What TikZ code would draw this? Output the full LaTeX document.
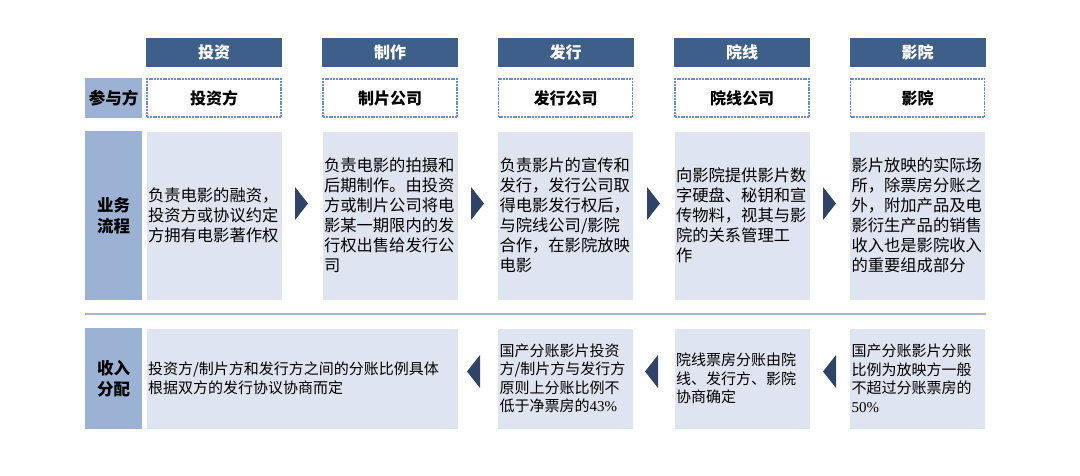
\documentclass[tikz,border=0pt]{standalone}
\usepackage{fontspec}
\newfontfamily\cjk{Noto Sans CJK SC}
\newfontfamily\lat{Liberation Serif}
\definecolor{hdr}{HTML}{3F5F8B}
\definecolor{lbl}{HTML}{9CB2D5}
\definecolor{cnt}{HTML}{DFE5F0}
\definecolor{dsh}{HTML}{6A8FD0}
\definecolor{tri}{HTML}{2E4466}
\definecolor{sep}{HTML}{A7B6CF}
\tikzset{
  head/.style={fill=hdr, text=white, font=\cjk\bfseries\fontsize{16}{19}\selectfont, minimum width=136, minimum height=29, inner sep=0},
  party/.style={draw=dsh, line width=1.8pt, dash pattern=on 2pt off 0.8pt, fill=white, font=\cjk\bfseries\fontsize{16}{19}\selectfont, minimum width=134, minimum height=38, inner sep=0},
  lab/.style={fill=lbl, text=black, font=\cjk\bfseries\fontsize{16.5}{21}\selectfont, minimum width=57, align=center, inner sep=0},
  flow/.style={fill=cnt, draw=white, line width=0.5pt, text width=132, inner xsep=2, inner ysep=0, minimum height=169, align=left, font=\cjk\fontsize{16.3}{20}\selectfont},
  inc/.style={fill=cnt, draw=white, line width=0.5pt, inner xsep=2, inner ysep=0, minimum height=101, align=left, font=\cjk\fontsize{15}{18.5}\selectfont},
  arr/.style={fill=tri, draw=none}
}
\begin{document}
\begin{tikzpicture}[x=1pt,y=-1pt]
\useasboundingbox (0,0) rectangle (1080,475);
% headers
\node[head] (h1) at (214,52.5) {投资};
\node[head] (h2) at (390,52.5) {制作};
\node[head] (h3) at (565.5,52.5) {发行};
\node[head] (h4) at (742,52.5) {院线};
\node[head] (h5) at (917.5,52.5) {影院};
% participants
\node[lab, minimum height=40] (l1) at (113.5,98) {参与方};
\node[party] (p1) at (214,98) {投资方};
\node[party] (p2) at (390,98) {制片公司};
\node[party] (p3) at (565.5,98) {发行公司};
\node[party] (p4) at (742,98) {院线公司};
\node[party] (p5) at (917.5,98) {影院};
% flow
\node[lab, minimum height=169] (l2) at (113.5,215.5) {业务\\流程};
\node[flow] (f1) at (214,215.5) {负责电影的融资，\\投资方或协议约定\\方拥有电影著作权};
\node[flow] (f2) at (390,215.5) {负责电影的拍摄和\\后期制作。由投资\\方或制片公司将电\\影某一期限内的发\\行权出售给发行公\\司};
\node[flow] (f3) at (565.5,215.5) {负责影片的宣传和\\发行，发行公司取\\得电影发行权后，\\与院线公司/影院\\合作，在影院放映\\电影};
\node[flow] (f4) at (742,215.5) {向影院提供影片数\\字硬盘、秘钥和宣\\传物料，视其与影\\院的关系管理工\\作};
\node[flow] (f5) at (917.5,215.5) {影片放映的实际场\\所，除票房分账之\\外，附加产品及电\\影衍生产品的销售\\收入也是影院收入\\的重要组成部分};
\fill[arr] (295,187) -- (308,203.5) -- (295,220) -- cycle;
\fill[arr] (471,187) -- (484,203.5) -- (471,220) -- cycle;
\fill[arr] (647,187) -- (660,203.5) -- (647,220) -- cycle;
\fill[arr] (823,187) -- (836,203.5) -- (823,220) -- cycle;
% separator
\coordinate (s1) at (85,314);
\coordinate (s2) at (986,314);
\draw[sep, line width=1.5pt] (s1) -- (s2);
% income
\node[lab, minimum height=101] (l3) at (113.5,378.5) {收入\\分配};
\node[inc, text width=308] (i1) at (302,378.5) {投资方/制片方和发行方之间的分账比例具体\\根据双方的发行协议协商而定};
\node[inc, text width=132] (i2) at (565.5,378.5) {国产分账影片投资\\方/制片方与发行方\\原则上分账比例不\\低于净票房的{\lat 43\%}};
\node[inc, text width=132] (i3) at (742,378.5) {院线票房分账由院\\线、发行方、影院\\协商确定};
\node[inc, text width=132] (i4) at (917.5,378.5) {国产分账影片分账\\比例为放映方一般\\不超过分账票房的\\{\lat 50\%}};
\fill[arr] (480,355) -- (467,371.5) -- (480,388) -- cycle;
\fill[arr] (658,355) -- (645,371.5) -- (658,388) -- cycle;
\fill[arr] (836,355) -- (823,371.5) -- (836,388) -- cycle;
\end{tikzpicture}
\end{document}
